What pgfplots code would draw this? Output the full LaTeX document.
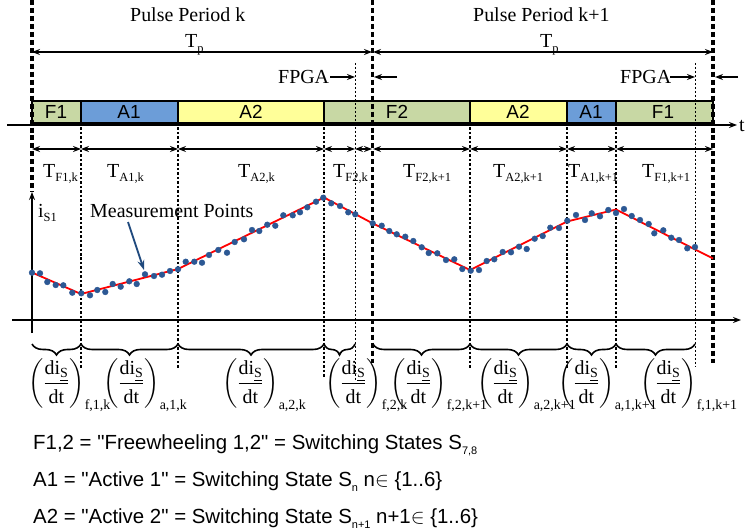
\documentclass[border=0pt]{standalone}
\usepackage{amsmath}
\usepackage{fontspec}
\setmainfont{Liberation Serif}
\newfontfamily\sans{Liberation Sans}
\usepackage{pgfplots}
\pgfplotsset{compat=1.18}
\usetikzlibrary{arrows.meta,decorations.pathreplacing}

\definecolor{fgreen}{RGB}{200,216,164}
\definecolor{ablue}{RGB}{108,157,216}
\definecolor{ayellow}{RGB}{255,255,153}
\definecolor{dotblue}{RGB}{44,88,148}
\definecolor{arrblue}{RGB}{31,73,125}

\newcommand{\bigf}{\fontsize{20}{24}\selectfont}
\newcommand{\sub}[1]{\raisebox{-0.25em}{\fontsize{12.5}{12.5}\selectfont #1}}
\newcommand{\lsub}[1]{\raisebox{-0.28em}{\fontsize{11}{11}\selectfont #1}}
\newcommand{\frc}[1]{$\biggl(\dfrac{\text{di}_{\underline{\text{S}}}}{\text{dt}}\biggr)_{\text{#1}}$}

\begin{document}
\begin{tikzpicture}[
  lbl/.style={inner sep=0pt, anchor=base west, font=\bigf},
  boxlbl/.style={inner sep=0pt, font=\sans\fontsize{19}{19}\selectfont},
  thickdash/.style={line width=3.5pt, dash pattern=on 5pt off 3pt},
  thindot/.style={line width=1.5pt, dash pattern=on 2.5pt off 2pt},
  dbl/.style={line width=1.4pt, {Stealth[length=8pt,width=6pt]}-{Stealth[length=8pt,width=6pt]}},
  sgl/.style={line width=1.4pt, -{Stealth[length=8pt,width=6pt]}},
  br/.style={line width=1.6pt, decorate, decoration={brace, mirror, amplitude=11pt}},
  frac/.style={inner sep=0pt, anchor=base west, font=\bigf},
  legtxt/.style={inner sep=0pt, anchor=base west, font=\sans\fontsize{20.5}{24}\selectfont},
]
\begin{axis}[
  scale only axis, width=745bp, height=531bp,
  xmin=0, xmax=745, ymin=0, ymax=531, y dir=reverse,
  hide axis, clip=false,
]
% switching state boxes
\draw[fill=fgreen, line width=1.5pt] (32,101) rectangle (81,123);
\draw[fill=ablue, line width=1.5pt] (81,101) rectangle (178,123);
\draw[fill=ayellow, line width=1.5pt] (178,101) rectangle (324,123);
\draw[fill=fgreen, line width=1.5pt] (324,101) rectangle (470,123);
\draw[fill=ayellow, line width=1.5pt] (470,101) rectangle (567,123);
\draw[fill=ablue, line width=1.5pt] (567,101) rectangle (616,123);
\draw[fill=fgreen, line width=1.5pt] (616,101) rectangle (713,123);
\node[boxlbl] at (56,112) {F1};
\node[boxlbl] at (129,112) {A1};
\node[boxlbl] at (251,112) {A2};
\node[boxlbl] at (397,112) {F2};
\node[boxlbl] at (518,112) {A2};
\node[boxlbl] at (591,112) {A1};
\node[boxlbl] at (663,112) {F1};

% time axis
\draw[sgl, line width=1.6pt] (7,125) -- (737,125);
\node[inner sep=0pt, anchor=west, font=\bigf] at (739,126) {t};

% period boundaries
\draw[thickdash] (32,0) -- (32,192);
\draw[thickdash] (372.5,0) -- (372.5,363);
\draw[thickdash] (713,0) -- (713,363);

% segment boundaries
\draw[thindot] (81,123) -- (81,368);
\draw[thindot] (178,123) -- (178,368);
\draw[thindot] (470,123) -- (470,368);
\draw[thindot] (567,123) -- (567,368);
\draw[thindot] (616,123) -- (616,368);
\draw[thindot] (324,123) -- (324,377);
\draw[line width=1pt, dash pattern=on 2pt off 2pt] (355,63) -- (355,380);
\draw[line width=1pt, dash pattern=on 2pt off 2pt] (695,63) -- (695,366);

% pulse period labels
\node[lbl] at (130,22) {Pulse Period k};
\node[lbl] at (185,48) {T\sub{p}};
\draw[dbl] (32,52) -- (372,52);
\node[lbl] at (473,22) {Pulse Period k+1};
\node[lbl] at (540,48) {T\sub{p}};
\draw[dbl] (373,52) -- (713,52);

% FPGA delay
\node[lbl] at (278,84) {FPGA};
\draw[sgl] (330,77) -- (355,77);
\draw[sgl] (397,77) -- (374,77);
\node[lbl] at (620,84) {FPGA};
\draw[sgl] (670,77) -- (695,77);
\draw[sgl] (738,77) -- (715,77);

% interval durations
\draw[dbl] (32,149) -- (81,149);
\draw[dbl] (81,149) -- (178,149);
\draw[dbl] (178,149) -- (324,149);
\draw[dbl] (324,149) -- (355,149);
\draw[dbl] (355,149) -- (372,149);
\draw[dbl] (373,149) -- (470,149);
\draw[dbl] (470,149) -- (567,149);
\draw[dbl] (567,149) -- (616,149);
\draw[dbl] (616,149) -- (713,149);
\node[lbl] at (43,177) {T\sub{F1,k}};
\node[lbl] at (107,177) {T\sub{A1,k}};
\node[lbl] at (238,177) {T\sub{A2,k}};
\node[lbl] at (333,177) {T\sub{F2,k}};
\node[lbl] at (403,177) {T\sub{F2,k+1}};
\node[lbl] at (493,177) {T\sub{A2,k+1}};
\node[lbl] at (568,177) {T\sub{A1,k+1}};
\node[lbl] at (642,177) {T\sub{F1,k+1}};

% current axes
\draw[sgl, line width=1.8pt] (32,333) -- (32,192);
\draw[sgl, line width=1.6pt] (12,320) -- (741,320);
\node[lbl] at (38,217) {i\sub{S1}};

% current trajectory
\addplot[red, line width=1.8pt] coordinates {
(32,272.5)(81,294)(178,269)(324,197.5)(372,223)(470,270)(567,221.5)(616,209.5)(713,258.5)};
\addplot[only marks, mark=*, mark size=2.9pt, dotblue] coordinates {
(32,272.7)(40,273.3)(47.3,282)(55.7,285)(63.3,285.3)(72.3,292.7)(81.3,293.3)(90,295.3)
(97.3,290)(105.3,292)(112.7,284)(120.7,286.7)(129.3,281.3)(136.7,284)(145,274.3)(154,276)
(162,274.7)(170,271)(178,269.3)(185.7,261.7)(194.3,261.7)(202,262.7)(209,255)(218.3,250)
(227,252.7)(234.7,242)(244,239.3)(252,230)(259.3,231)(267.3,224.7)(275.3,225.7)(283.3,215.3)
(292.7,215.3)(300,212.3)(307.3,207.3)(316,201.7)(323.3,197.7)(331.3,203.3)(340,206)(348.3,212.3)
(355.3,214.3)
(372.7,223.3)(381.7,225.7)(389.3,231)(396.7,234.3)(405.3,236.7)(413.3,241)(421.7,247.3)(428.7,253)
(437.3,253.3)(446,260)(454.3,259.3)(462.3,269)(470.7,270.7)(479,270)(486.7,261)(494.3,259.3)
(502.7,252)(511,252.3)(519,246.7)(526.7,249)(534.7,238.7)(542.7,236)(550.3,227.7)(559,228)
(567.3,220.7)(576,215)(585,220)(591.7,213.3)(600,216.3)(608.3,210)(616,213)(624,209)
(631.7,216)(640,220)(648.7,224)(654.3,233.3)(663.3,230.3)(671.3,237.7)(679,240)(687.3,248.3)
(695,247)};

\node[lbl] at (90,217) {Measurement Points};
\draw[arrblue, line width=1.8pt, -{Stealth[length=10pt,width=7pt]}] (128,222) -- (144,270);

% slope braces
\draw[br] (32,344) -- (81,344);
\draw[br] (81,344) -- (178,344);
\draw[br] (178,344) -- (324,344);
\draw[br] (324,344) -- (355,344);
\draw[br] (373,344) -- (470,344);
\draw[br] (470,344) -- (567,344);
\draw[br] (567,344) -- (616,344);
\draw[br] (616,344) -- (695,344);

\node[frac] at (28,389) {\frc{f,1,k}};
\node[frac] at (103,389) {\frc{a,1,k}};
\node[frac] at (222,389) {\frc{a,2,k}};
\node[frac] at (325,389) {\frc{f,2,k}};
\node[frac] at (390,389) {\frc{f,2,k+1}};
\node[frac] at (477,389) {\frc{a,2,k+1}};
\node[frac] at (558,389) {\frc{a,1,k+1}};
\node[frac] at (640,389) {\frc{f,1,k+1}};

% legend text
\node[legtxt] at (33,449) {F1,2 = "Freewheeling 1,2" = Switching States S\lsub{7,8}};
\node[legtxt] at (33,486) {A1 = "Active 1" = Switching State S\lsub{n} n$\in$ \{1..6\}};
\node[legtxt] at (33,523) {A2 = "Active 2" = Switching State S\lsub{n+1} n+1$\in$ \{1..6\}};
\end{axis}
\pgfresetboundingbox
\path (0,0) rectangle (745bp,531bp);
\end{tikzpicture}
\end{document}
